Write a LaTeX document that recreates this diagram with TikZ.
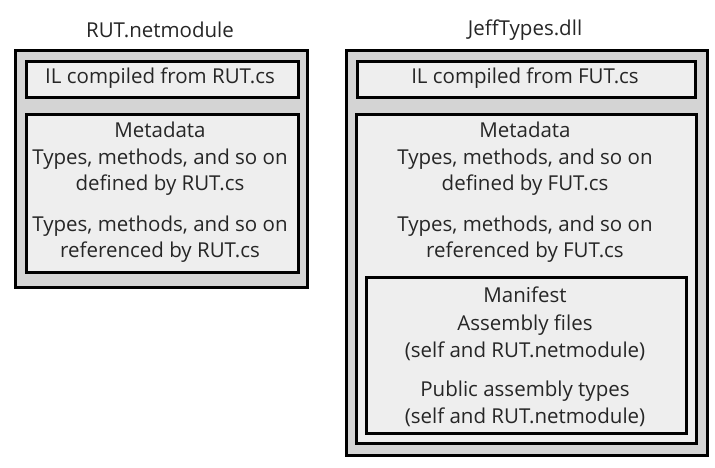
\documentclass[tikz,border=0pt]{standalone}
\usepackage{fontspec}
\setmainfont{Open Sans}
\begin{document}
\begin{tikzpicture}[x=1pt,y=-1pt,
  outerbox/.style={draw=black,line width=3.4pt,fill=outergray,anchor=north west,inner sep=0pt},
  innerbox/.style={draw=black,line width=3.4pt,fill=innergray,anchor=north west,inner sep=0pt},
  lbl/.style={align=center,inner sep=0pt,font=\fontsize{20.5}{26.5}\selectfont,text=textgray},
  ]
\definecolor{outergray}{HTML}{D4D4D4}
\definecolor{innergray}{HTML}{EEEEEE}
\definecolor{textgray}{HTML}{262626}
\useasboundingbox[fill=white] (0,0) rectangle (715,467);
% left assembly
\node[lbl] (ltitle) at (160,30) {RUT.netmodule};
\node[outerbox,minimum width=292,minimum height=237] (lout) at (13.5,48.5) {};
\node[innerbox,minimum width=272,minimum height=36] (lil) at (24.5,59.5) {};
\node[innerbox,minimum width=272,minimum height=158] (lmeta) at (24.5,112.5) {};
\node[lbl] (liltxt) at (160,78) {IL compiled from RUT.cs};
\node[lbl] (lmeta1) at (160,159) {Metadata\\Types, methods, and so on\\defined by RUT.cs};
\node[lbl] (lmeta2) at (160,239) {Types, methods, and so on\\referenced by RUT.cs};
% right assembly
\node[lbl] (rtitle) at (525,30) {JeffTypes.dll};
\node[outerbox,minimum width=361,minimum height=405] (rout) at (344.5,48.5) {};
\node[innerbox,minimum width=338,minimum height=36] (ril) at (355.5,59.5) {};
\node[innerbox,minimum width=340,minimum height=329] (rmeta) at (354.5,112.5) {};
\node[innerbox,minimum width=320,minimum height=156] (rman) at (364.5,275.5) {};
\node[lbl] (riltxt) at (525,78) {IL compiled from FUT.cs};
\node[lbl] (rmeta1) at (525,159) {Metadata\\Types, methods, and so on\\defined by FUT.cs};
\node[lbl] (rmeta2) at (525,239) {Types, methods, and so on\\referenced by FUT.cs};
\node[lbl] (rman0) at (525,295) {Manifest};
\node[lbl] (rman1) at (525,338) {Assembly files\\(self and RUT.netmodule)};
\node[lbl] (rman2) at (525,404) {Public assembly types\\(self and RUT.netmodule)};
\end{tikzpicture}
\end{document}
